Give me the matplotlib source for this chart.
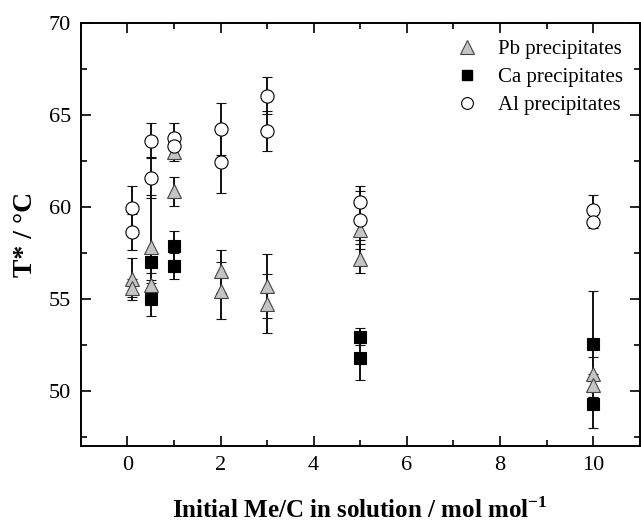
import matplotlib
matplotlib.use("Agg")
import matplotlib.pyplot as plt
from matplotlib.lines import Line2D
from matplotlib.ticker import MultipleLocator

plt.rcParams["font.family"] = ["Liberation Serif", "DejaVu Serif"]
plt.rcParams["mathtext.fontset"] = "custom"
plt.rcParams["mathtext.rm"] = "Liberation Serif"
plt.rcParams["mathtext.bf"] = "Liberation Serif:bold"

# Pb precipitates (grey triangles)
x_pb = [0.1, 0.1, 0.5, 0.5, 1, 1, 2, 2, 3, 3, 5, 5, 10, 10]
t_pb = [56.1, 55.6, 57.85, 55.75, 63.0, 60.85, 56.5, 55.45, 55.7, 54.75, 58.75, 57.2, 50.95, 50.3]
e_pb = [1.15, 0.5, 2.8, 0.3, 0.5, 0.8, 1.15, 1.55, 1.75, 1.6, 0.55, 0.8, 0.9, 0.6]

# Ca precipitates (black squares)
x_ca = [0.5, 0.5, 1, 1, 5, 5, 10, 10]
t_ca = [57.0, 55.0, 57.9, 56.8, 52.95, 51.8, 52.55, 49.3]
e_ca = [0.6, 0.9, 0.8, 0.7, 0.45, 1.2, 2.9, 1.3]

# Al precipitates (open circles)
x_al = [0.1, 0.1, 0.5, 0.5, 1, 1, 2, 2, 3, 3, 5, 5, 10, 10]
t_al = [59.95, 58.65, 63.6, 61.6, 63.75, 63.35, 64.25, 62.45, 66.05, 64.15, 60.3, 59.3, 59.85, 59.2]
e_al = [1.2, 1.0, 0.95, 1.1, 0.85, 0.7, 1.4, 1.7, 1.0, 1.1, 0.85, 1.6, 0.8, 0.35]

fig = plt.figure(figsize=(6.41, 5.28), dpi=100)
ax = fig.add_axes([0.126, 0.155, 0.872, 0.801])

ebkw = dict(ecolor="#111111", elinewidth=1.4, capsize=3.5, capthick=1.4, ls="none")
ax.errorbar(x_pb, t_pb, yerr=e_pb, fmt="^", ms=10.5, mfc="#c4c4c4", mec="#444444", mew=0.8, **ebkw)
ax.errorbar(x_ca, t_ca, yerr=e_ca, fmt="s", ms=8.5, mfc="black", mec="black", mew=0.8, **ebkw)
ax.errorbar(x_al, t_al, yerr=e_al, fmt="o", ms=9.5, mfc="white", mec="black", mew=0.8, **ebkw)

ax.set_xlim(-1, 11)
ax.set_ylim(47, 70)
ax.xaxis.set_major_locator(MultipleLocator(2))
ax.xaxis.set_minor_locator(MultipleLocator(1))
ax.yaxis.set_major_locator(MultipleLocator(5))
ax.yaxis.set_minor_locator(MultipleLocator(2.5))
ax.tick_params(which="both", direction="in", top=True, right=True, width=1.2, labelsize=16, pad=7)
ax.tick_params(which="major", length=7)
ax.tick_params(which="minor", length=4)
for s in ax.spines.values():
    s.set_linewidth(1.4)

ax.set_xlabel(r"Initial Me/C in solution / mol mol$^{\mathbf{-1}}$", fontsize=18, fontweight="bold", labelpad=16)
ax.set_ylabel("T* / °C", fontsize=20, fontweight="bold", labelpad=8)

handles = [
    Line2D([], [], ls="none", marker="^", ms=9.5, mfc="#c4c4c4", mec="#444444", mew=0.8),
    Line2D([], [], ls="none", marker="s", ms=7.5, mfc="black", mec="black"),
    Line2D([], [], ls="none", marker="o", ms=8.5, mfc="white", mec="black", mew=0.8),
]
ax.legend(handles, ["Pb precipitates", "Ca precipitates", "Al precipitates"],
          loc="upper right", frameon=False, fontsize=15, handletextpad=0.5,
          labelspacing=0.4, borderaxespad=0.4, bbox_to_anchor=(1.0, 1.0))

fig.savefig("out.png", dpi=100)
